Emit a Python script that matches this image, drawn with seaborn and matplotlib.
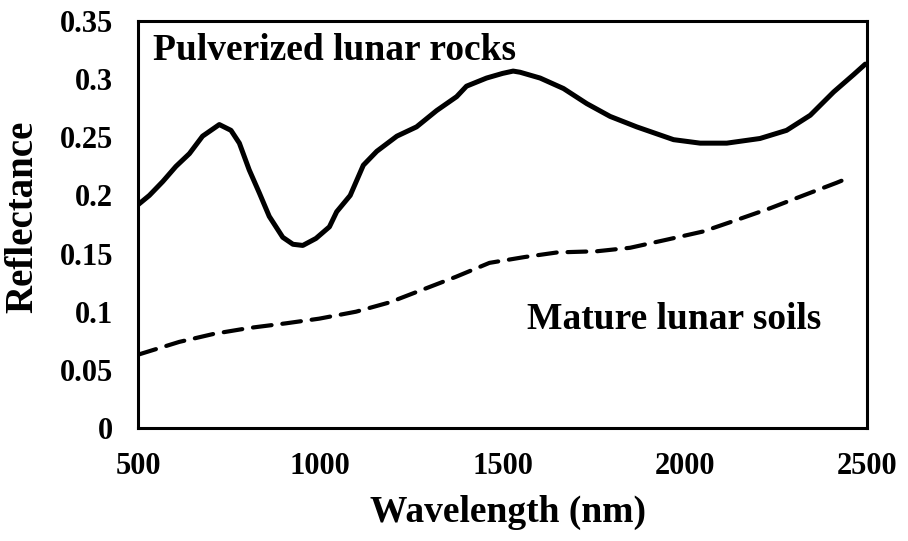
import numpy as np
import pandas as pd
import matplotlib
matplotlib.use("Agg")
import matplotlib.pyplot as plt
import seaborn as sns

# pulverized lunar rocks (solid curve)
rock_wl = [500, 531, 568, 604, 641, 677, 723, 755, 778, 805, 833, 860, 897, 925, 952, 988,
           1025, 1045, 1082, 1118, 1155, 1210, 1264, 1319, 1374, 1401, 1456, 1500, 1529,
           1548, 1603, 1667, 1731, 1795, 1868, 1969, 2042, 2115, 2206, 2279, 2344, 2408,
           2463, 2495]
rock_refl = [0.192, 0.200, 0.212, 0.225, 0.236, 0.251, 0.261, 0.256, 0.245, 0.222, 0.202,
             0.182, 0.164, 0.158, 0.157, 0.163, 0.173, 0.186, 0.200, 0.226, 0.238, 0.251,
             0.259, 0.273, 0.285, 0.294, 0.301, 0.305, 0.307, 0.306, 0.301, 0.292, 0.279,
             0.268, 0.259, 0.248, 0.245, 0.245, 0.249, 0.256, 0.269, 0.289, 0.304, 0.313]

# mature lunar soils (dashed curve)
soil_wl = [500, 613, 709, 805, 906, 997, 1098, 1190, 1281, 1372, 1464, 1560, 1650, 1759,
           1850, 1951, 2050, 2143, 2234, 2325, 2417, 2448]
soil_refl = [0.063, 0.074, 0.081, 0.086, 0.090, 0.094, 0.100, 0.108, 0.119, 0.130, 0.142,
             0.147, 0.151, 0.152, 0.155, 0.162, 0.169, 0.179, 0.189, 0.200, 0.211, 0.215]

x_ticks = [500, 1000, 1500, 2000, 2500]
y_ticks = [0, 0.05, 0.1, 0.15, 0.2, 0.25, 0.3, 0.35]
y_labels = ["0", "0.05", "0.1", "0.15", "0.2", "0.25", "0.3", "0.35"]

sns.set_style("white")
plt.rcParams["font.family"] = ["Liberation Serif", "DejaVu Serif"]
plt.rcParams["font.weight"] = "bold"
plt.rcParams["text.color"] = "black"
plt.rcParams["axes.labelcolor"] = "black"
plt.rcParams["xtick.color"] = "black"
plt.rcParams["ytick.color"] = "black"

rocks = pd.DataFrame({"wl": rock_wl, "refl": rock_refl})
soils = pd.DataFrame({"wl": soil_wl, "refl": soil_refl})

fig = plt.figure(figsize=(9.08, 5.41), dpi=100)
ax = fig.add_axes([0.152, 0.209, 0.803, 0.752])

sns.lineplot(data=rocks, x="wl", y="refl", ax=ax, color="black", linewidth=3.6,
             solid_joinstyle="round", solid_capstyle="round")
sns.lineplot(data=soils, x="wl", y="refl", ax=ax, color="black", linewidth=3.0,
             linestyle=(0, (4.5, 2.6)), dash_capstyle="round")

ax.set_xlim(500, 2500)
ax.set_ylim(0, 0.35)
ax.set_xticks(x_ticks)
ax.set_yticks(y_ticks)
ax.set_yticklabels(y_labels)
ax.tick_params(axis="x", length=0, labelsize=22, pad=17)
ax.tick_params(axis="y", length=0, labelsize=22, pad=18)
for lab in ax.get_xticklabels() + ax.get_yticklabels():
    lab.set_fontweight("bold")

ax.set_xlabel("Wavelength (nm)", fontsize=27, fontweight="bold")
ax.set_ylabel("Reflectance", fontsize=28, fontweight="bold")
ax.xaxis.set_label_coords(0.508, -0.165)
ax.yaxis.set_label_coords(-0.158, 0.518)
ax.yaxis.label.set_va("center")

for side in ["top", "bottom", "left", "right"]:
    ax.spines[side].set_visible(True)
    ax.spines[side].set_color("black")
    ax.spines[side].set_linewidth(2.2)

ax.text(541, 0.325, "Pulverized lunar rocks", fontsize=27, fontweight="bold",
        va="center", ha="left")
ax.text(1567, 0.093, "Mature lunar soils", fontsize=27, fontweight="bold",
        va="center", ha="left")

fig.savefig("out.png", dpi=100, facecolor="white")
